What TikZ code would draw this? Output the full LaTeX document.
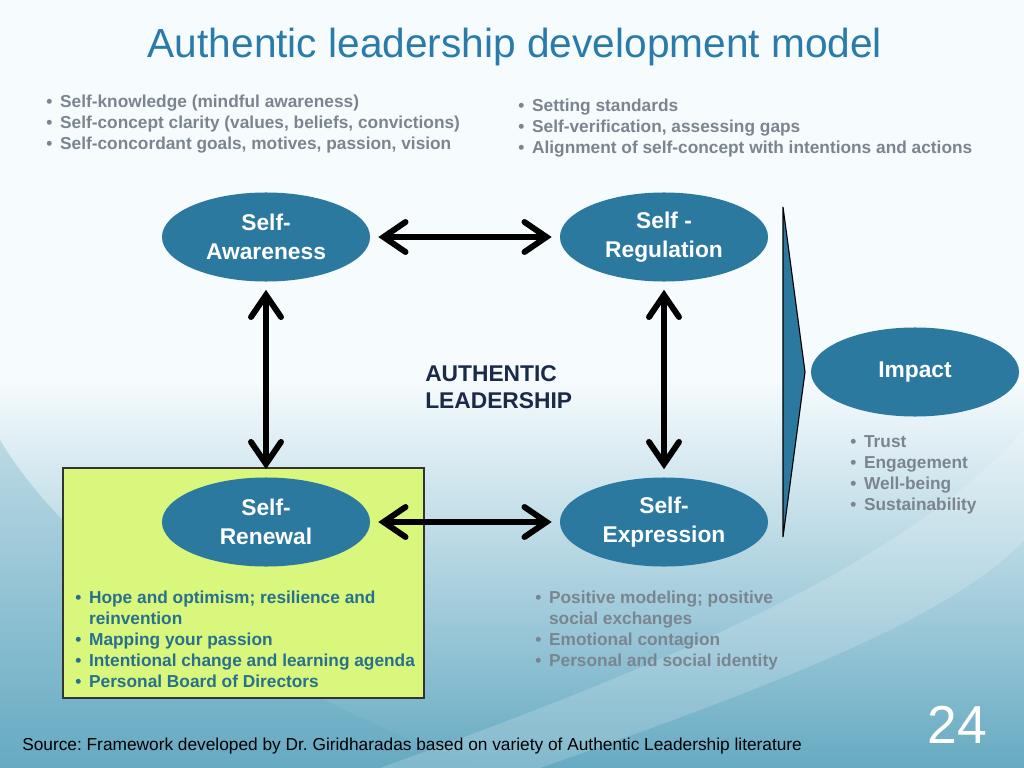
\documentclass[tikz,border=0pt]{standalone}
\usepackage{fontspec}
\setmainfont{Liberation Sans}
\usetikzlibrary{shapes.geometric,arrows.meta}
\definecolor{ttl}{HTML}{2B7BAA}
\definecolor{ellfill}{HTML}{2C79A0}
\definecolor{greytxt}{HTML}{7B8590}
\definecolor{boxfill}{HTML}{D9F77C}
\definecolor{boxtxt}{HTML}{27708E}
\definecolor{navy}{HTML}{1B2A48}
\definecolor{bgtop}{HTML}{F6FBFD}
\definecolor{bgmid}{HTML}{C9E3EC}
\definecolor{bgbot}{HTML}{66AAC2}
\newcommand{\itm}{\textbullet\hspace{0.45em}}
\newcommand{\ind}{\hphantom{\textbullet\hspace{0.45em}}}
\tikzset{
  elli/.style={ellipse, fill=ellfill, minimum width=5.2cm, minimum height=2.225cm, inner sep=0pt, text=white, align=center, font=\fontsize{16.2}{20.6}\selectfont\bfseries},
  biarrow/.style={{Straight Barb[length=5.5mm,width=7.5mm,line cap=round]}-{Straight Barb[length=5.5mm,width=7.5mm,line cap=round]}, line width=4.2pt, shorten <=0.2cm, shorten >=0.2cm},
  blist/.style={anchor=north west, inner sep=0pt, align=left, font=\fontsize{12.3}{14.9}\selectfont\bfseries},
}
\frenchspacing

\begin{document}
\begin{tikzpicture}[x=0.025cm, y=-0.025cm]
\useasboundingbox (0,0) rectangle (1024,768);
\fill[bgtop] (0,0) rectangle (1024,768);
\shade[top color=bgtop, middle color=bgmid, bottom color=bgbot] (0,380) rectangle (1024,768);
\fill[bgbot, opacity=0.3] (0,440) .. controls (60,540) and (200,660) .. (480,768) -- (0,768) -- cycle;
\fill[white, opacity=0.18] (1024,430) .. controls (900,570) and (650,670) .. (380,768) -- (540,768) .. controls (760,690) and (950,620) .. (1024,540) -- cycle;

\node (T) at (515,47) [text=ttl, font=\fontsize{28.9}{34}\selectfont] {Authentic leadership development model};

\node (L1) at (46,95) [blist, text=greytxt] {\itm Self-knowledge (mindful awareness)\\ \itm Self-concept clarity (values, beliefs, convictions)\\ \itm Self-concordant goals, motives, passion, vision};
\node (L2) at (518,99) [blist, text=greytxt] {\itm Setting standards\\ \itm Self-verification, assessing gaps\\ \itm Alignment of self-concept with intentions and actions};

\node (B) at (243.5,583) [draw=black!80, line width=1.2pt, fill=boxfill, minimum width=9.025cm, minimum height=5.75cm] {};

\node (SA) at (266,237) [elli] {Self-\\Awareness};
\node (SR) at (664,237) [elli] {Self -\\Regulation};
\node (SN) at (266,522) [elli] {Self-\\Renewal};
\node (SE) at (664,522) [elli] {Self-\\Expression};
\node (I) at (915,372) [elli] {Impact};

\draw [biarrow] (SA) -- (SR);
\draw [biarrow] (SN) -- (SE);
\draw [biarrow] (SA) -- (SN);
\draw [biarrow] (SR) -- (SE);

\draw [fill=ellfill, line width=0.8pt] (783,207) -- (805,372) -- (783,537) -- cycle;

\node (AL) at (425,365) [anchor=north west, inner sep=0pt, align=left, text=navy, font=\fontsize{16.2}{19.2}\selectfont\bfseries] {AUTHENTIC\\LEADERSHIP};

\node (L3) at (850,435) [blist, text=greytxt] {\itm Trust\\ \itm Engagement\\ \itm Well-being\\ \itm Sustainability};
\node (L4) at (75,591) [blist, text=boxtxt] {\itm Hope and optimism; resilience and\\ \ind reinvention\\ \itm Mapping your passion\\ \itm Intentional change and learning agenda\\ \itm Personal Board of Directors};
\node (L5) at (535,591) [blist, text=greytxt] {\itm Positive modeling; positive\\ \ind social exchanges\\ \itm Emotional contagion\\ \itm Personal and social identity};

\node (S) at (22,746) [anchor=west, inner sep=0pt, font=\fontsize{12.3}{14}\selectfont] {Source: Framework developed by Dr. Giridharadas based on variety of Authentic Leadership literature};
\node (P) at (957,725) [text=white, font=\fontsize{38}{40}\selectfont] {24};
\end{tikzpicture}
\end{document}
